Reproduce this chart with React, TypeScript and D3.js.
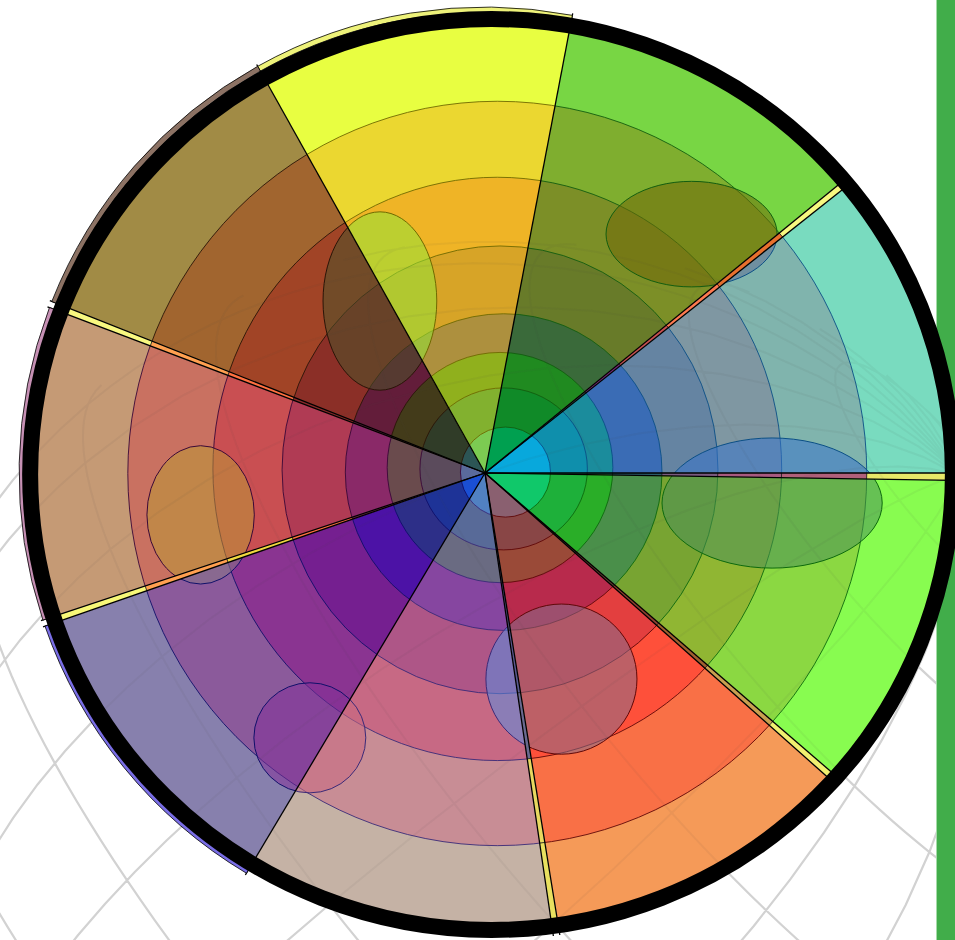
import { useEffect, useRef } from 'react'
import * as d3 from 'd3'

const W = 955
const H = 940
const CX = 485
const CY = 473

// pie slices, clockwise from 3 o'clock (span in degrees)
const sliceNames = ['T0', 'S8', 'T7', 'S7', 'T6', 'S6', 'S5', 'T4', 'S4', 'T3', 'S3', 'S2', 'S1', 'T1', 'S0']
const sliceSpans = [0.9, 39.9, 0.8, 39.2, 0.8, 39.2, 40, 0.8, 39.2, 0.8, 39.2, 40, 40, 0.8, 38.4]

// band colours, outermost band first
const bandsS0 = ['#79dbbf', '#80b4ad', '#7f97a2', '#6584a2', '#3a6cb5', '#1b8c9c', '#0f8fac', '#08a8dc']
const bandsS1 = ['#78d644', '#7fae2f', '#7c8f27', '#687b29', '#3a6a3a', '#208a20', '#108a28', '#00a050']
const bandsS2 = ['#e8fe41', '#ebd730', '#efb426', '#d7a427', '#ad903e', '#90b01d', '#82b12f', '#7ccb52']
const bandsS3 = ['#a18b45', '#a1652f', '#a14426', '#8b2f27', '#631d3a', '#433b1a', '#303c28', '#2c5555']
const bandsS4 = ['#c59a75', '#c97161', '#c94f52', '#b03b54', '#8a2968', '#6a4b4d', '#5b4b5c', '#5a6a9c']
const bandsS5 = ['#8780ad', '#8b5a9b', '#8a3491', '#751f90', '#4c12a6', '#2d2f88', '#1e3397', '#1a4fd4']
const bandsS6 = ['#c5b2a5', '#c88d95', '#c76984', '#ae5687', '#8646a0', '#6a6b82', '#586a98', '#5181c2']
const bandsS7 = ['#f59a58', '#f97046', '#fe503a', '#e33f3f', '#b82a4c', '#9a4a38', '#894646', '#8a6070']
const bandsS8 = ['#88fc50', '#8bd842', '#90b633', '#78a432', '#4a8f4a', '#2aae28', '#1eb03a', '#10c86a']
const bandsT0 = ['#e8e868', '#b0607a', '#a85a80', '#7a5a80', '#2a5a6a', '#1a6a6a', '#1a7a6a', '#10a0a0']
const bandsT1 = ['#f8f880', '#e8702e', '#ff7a50', '#c85050', '#7a2a7a', '#3a5a48', '#276a5a', '#1a8fa8']
const bandsT3 = ['#f8f880', '#ffa050', '#ff7040', '#8a2a2a', '#5a1a3a', '#3a2a1a', '#2a2a2a', '#2a4a5a']
const bandsT4 = ['#f8f878', '#ffa050', '#f0d840', '#ff7040', '#7a2a50', '#4a2a40', '#2a2a50', '#2a40a0']
const bandsT6 = ['#e8e060', '#e8d860', '#6a6a90', '#5a5a90', '#505080', '#504060', '#404050', '#506080']
const bandsT7 = ['#f0f070', '#c8a050', '#a06030', '#904030', '#604030', '#404030', '#304030', '#306050']
const sliceBands = [bandsT0, bandsS8, bandsT7, bandsS7, bandsT6, bandsS6, bandsS5, bandsT4, bandsS4, bandsT3, bandsS3, bandsS2, bandsS1, bandsT1, bandsS0]
const sliceStroke = ['#222', '#0d6a0d', '#222', '#600808', '#222', '#3a2a78', '#10106a', '#222', '#3a0838', '#222', '#2a1508', '#6f6a00', '#135e10', '#222', '#0b4f86']

// nested rings, outermost first: centre offset from hub and radii, in % of the outer radius
const ringDx = [1.4, 2.7, 2.7, 3.3, 4.1, 3.3, 4.1, 4.5]
const ringDy = [0.3, 0.1, -0.9, -0.7, -0.2, -1.2, -0.9, -0.2]
const ringRx = [100.2, 81.2, 62.5, 47.9, 34.8, 24.8, 18.4, 9.9]
const ringRy = [98.9, 81.8, 64.1, 49.2, 34.8, 25.3, 17.8, 9.9]

// translucent blobs laid over the wedges
const blobDx = [-23.1, 45.4, 63.1, -62.5, -38.5, 16.8]
const blobDy = [-37.8, -52.5, 6.6, 9.2, 58.2, 45.3]
const blobRx = [12.5, 18.8, 24.2, 11.8, 12.3, 16.6]
const blobRy = [19.6, 11.6, 14.3, 15.2, 12.1, 16.5]
const blobTint: Record<string, string>[] = [
  { S2: '#92e538', S3: '#4c522a' },
  { S1: '#71690a', S0: '#617195' },
  { S0: '#3874ca', S8: '#4a9058' },
  { S4: '#b99737', S5: '#897787' },
  { S5: '#843299', S6: '#c86a81' },
  { S6: '#5a8ee0', S7: '#866d8a' },
]

// thin rims peeking out past the frame
const rimSlices = ['S2', 'S3', 'S4', 'S5']
const rimColors = ['#eef27a', '#8c7264', '#c690b4', '#7a6ee6']

export default function App() {
  const svgRef = useRef<SVGSVGElement>(null)

  useEffect(() => {
    if (!svgRef.current) return
    const svg = d3.select(svgRef.current)
    svg.selectAll('*').remove()

    const u = d3.scaleLinear().domain([0, 100]).range([0, 455])

    // globe graticule in the background
    const proj = d3.geoOrthographic().scale(620).translate([500, 860]).rotate([8, -15, -50]).clipAngle(90)
    const geo = d3.geoPath(proj)
    const grid = d3.geoGraticule().step([15, 15])()
    svg.append('path').attr('d', geo(grid) || '')
      .attr('fill', 'none').attr('stroke', '#d2d2d2').attr('stroke-width', 2.2)

    // green bar on the right
    svg.append('rect').attr('x', 936).attr('y', 0).attr('width', 19).attr('height', H).attr('fill', '#41ad4a')
    svg.append('line').attr('x1', 936.5).attr('x2', 936.5).attr('y1', 0).attr('y2', H)
      .attr('stroke', '#a6dba8').attr('stroke-width', 1)

    const pie = d3.pie<number>().sort(null).value(d => d)
      .startAngle(Math.PI / 2).endAngle(Math.PI / 2 + 2 * Math.PI)
    const arcs = pie(sliceSpans)
    const wedge = d3.arc<d3.PieArcDatum<number>>().innerRadius(0).outerRadius(490)

    const defs = svg.append('defs')
    arcs.forEach((a, i) => {
      defs.append('clipPath').attr('id', `wedge${i}`)
        .append('path').attr('d', wedge(a) || '').attr('transform', `translate(${CX},${CY})`)
    })
    defs.append('clipPath').attr('id', 'disc')
      .append('ellipse').attr('cx', CX + u(ringDx[0])).attr('cy', CY + u(ringDy[0]))
      .attr('rx', u(ringRx[0])).attr('ry', u(ringRy[0]))

    // wedges: nested rings, each clipped to its slice
    arcs.forEach((a, i) => {
      const name = sliceNames[i]
      const g = svg.append('g').attr('clip-path', `url(#wedge${i})`)
      sliceBands[i].forEach((c, k) => {
        g.append('ellipse')
          .attr('cx', CX + u(ringDx[k])).attr('cy', CY + u(ringDy[k]))
          .attr('rx', u(ringRx[k])).attr('ry', u(ringRy[k]))
          .attr('fill', c)
          .attr('stroke', k === 0 ? 'none' : sliceStroke[i]).attr('stroke-width', 0.9)
      })
      blobTint.forEach((tint, j) => {
        if (!tint[name]) return
        g.append('ellipse')
          .attr('cx', CX + u(blobDx[j])).attr('cy', CY + u(blobDy[j]))
          .attr('rx', u(blobRx[j])).attr('ry', u(blobRy[j]))
          .attr('fill', tint[name]).attr('fill-opacity', 0.55)
          .attr('stroke', sliceStroke[i]).attr('stroke-width', 1)
      })
    })

    // faint grid showing through
    svg.append('path').attr('d', geo(grid) || '').attr('clip-path', 'url(#disc)')
      .attr('fill', 'none').attr('stroke', '#444').attr('stroke-opacity', 0.06).attr('stroke-width', 2)

    // slice boundaries
    arcs.forEach(a => {
      const r = 468
      svg.append('line')
        .attr('x1', CX).attr('y1', CY)
        .attr('x2', CX + r * Math.sin(a.startAngle)).attr('y2', CY - r * Math.cos(a.startAngle))
        .attr('stroke', '#000').attr('stroke-width', 1.3)
    })

    // rims
    const rim = d3.arc<d3.PieArcDatum<number>>().innerRadius(u(101.2)).outerRadius(u(102.4))
    rimSlices.forEach((n, j) => {
      const a = arcs[sliceNames.indexOf(n)]
      svg.append('path').attr('d', rim(a) || '').attr('transform', `translate(${CX},${CY})`)
        .attr('fill', rimColors[j]).attr('stroke', '#000').attr('stroke-width', 0.8)
    })

    // black frame
    svg.append('ellipse')
      .attr('cx', CX + u(1.43)).attr('cy', CY + u(0.33))
      .attr('rx', u(101.4)).attr('ry', u(100.1))
      .attr('fill', 'none').attr('stroke', '#000').attr('stroke-width', 16)
  }, [])

  return (
    <svg ref={svgRef} width={W} height={H}
      style={{ position: 'absolute', left: 0, top: 0, display: 'block', background: '#fff' }} />
  )
}
